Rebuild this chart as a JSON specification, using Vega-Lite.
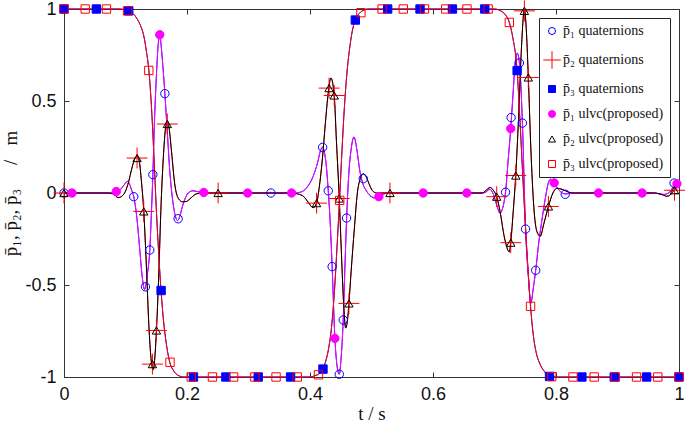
{
"$schema":"https://vega.github.io/schema/vega-lite/v6.json",
"width":615,"height":368,
"autosize":{"type":"none"},
"padding":{"left":64,"top":9,"right":6,"bottom":54},
"background":"white",
"config":{
"view":{"stroke":null},
"axis":{"grid":false,"domainColor":"#333","tickColor":"#333","tickSize":-5,"labelFont":"Liberation Sans","labelFontSize":18,"labelColor":"#111","titleFont":"Liberation Serif","titleFontSize":19,"titleFontWeight":"normal","titleColor":"#111"},
"legend":{"orient":"top-right","offset":9,"strokeColor":"#222","fillColor":"white","padding":6,"labelFont":"Liberation Serif","labelFontSize":14,"labelColor":"#111","symbolSize":49,"symbolStrokeWidth":1,"rowPadding":11,"labelLimit":0,"title":null}
},
"datasets":{
"curves":[
{"c":"p1","t":0,"v":0},{"c":"p1","t":0.07,"v":0},{"c":"p1","t":0.08,"v":0.003},{"c":"p1","t":0.085,"v":0.008},{"c":"p1","t":0.092,"v":0.02},{"c":"p1","t":0.098,"v":0.045},{"c":"p1","t":0.103,"v":0.063},{"c":"p1","t":0.107,"v":0.045},{"c":"p1","t":0.11,"v":0.015},{"c":"p1","t":0.1134,"v":-0.02},{"c":"p1","t":0.118,"v":-0.12},{"c":"p1","t":0.123,"v":-0.3},{"c":"p1","t":0.127,"v":-0.45},{"c":"p1","t":0.131,"v":-0.525},{"c":"p1","t":0.1325,"v":-0.51},{"c":"p1","t":0.136,"v":-0.43},{"c":"p1","t":0.1395,"v":-0.31},{"c":"p1","t":0.142,"v":-0.12},{"c":"p1","t":0.1445,"v":0.1},{"c":"p1","t":0.147,"v":0.38},{"c":"p1","t":0.15,"v":0.62},{"c":"p1","t":0.153,"v":0.8},{"c":"p1","t":0.1557,"v":0.86},{"c":"p1","t":0.158,"v":0.8},{"c":"p1","t":0.161,"v":0.68},{"c":"p1","t":0.164,"v":0.54},{"c":"p1","t":0.168,"v":0.33},{"c":"p1","t":0.172,"v":0.12},{"c":"p1","t":0.176,"v":-0.02},{"c":"p1","t":0.18,"v":-0.11},{"c":"p1","t":0.1845,"v":-0.15},{"c":"p1","t":0.188,"v":-0.13},{"c":"p1","t":0.192,"v":-0.08},{"c":"p1","t":0.197,"v":-0.03},{"c":"p1","t":0.202,"v":0},{"c":"p1","t":0.21,"v":0.012},{"c":"p1","t":0.22,"v":0.005},{"c":"p1","t":0.23,"v":0},{"c":"p1","t":0.375,"v":0},{"c":"p1","t":0.385,"v":0.005},{"c":"p1","t":0.395,"v":0.03},{"c":"p1","t":0.405,"v":0.09},{"c":"p1","t":0.412,"v":0.16},{"c":"p1","t":0.4175,"v":0.235},{"c":"p1","t":0.4205,"v":0.25},{"c":"p1","t":0.4235,"v":0.22},{"c":"p1","t":0.427,"v":0.13},{"c":"p1","t":0.4297,"v":0.012},{"c":"p1","t":0.433,"v":-0.17},{"c":"p1","t":0.436,"v":-0.4},{"c":"p1","t":0.4405,"v":-0.79},{"c":"p1","t":0.444,"v":-0.94},{"c":"p1","t":0.4476,"v":-0.985},{"c":"p1","t":0.4505,"v":-0.9},{"c":"p1","t":0.454,"v":-0.69},{"c":"p1","t":0.457,"v":-0.38},{"c":"p1","t":0.4595,"v":-0.14},{"c":"p1","t":0.463,"v":0.1},{"c":"p1","t":0.467,"v":0.24},{"c":"p1","t":0.4715,"v":0.305},{"c":"p1","t":0.476,"v":0.24},{"c":"p1","t":0.481,"v":0.12},{"c":"p1","t":0.486,"v":0.05},{"c":"p1","t":0.492,"v":0.01},{"c":"p1","t":0.5,"v":-0.02},{"c":"p1","t":0.507,"v":-0.028},{"c":"p1","t":0.512,"v":-0.02},{"c":"p1","t":0.52,"v":-0.005},{"c":"p1","t":0.53,"v":0},{"c":"p1","t":0.68,"v":0},{"c":"p1","t":0.686,"v":0.005},{"c":"p1","t":0.692,"v":0.02},{"c":"p1","t":0.698,"v":-0.005},{"c":"p1","t":0.704,"v":-0.07},{"c":"p1","t":0.709,"v":-0.11},{"c":"p1","t":0.7125,"v":-0.09},{"c":"p1","t":0.716,"v":-0.04},{"c":"p1","t":0.718,"v":0.005},{"c":"p1","t":0.722,"v":0.17},{"c":"p1","t":0.7264,"v":0.35},{"c":"p1","t":0.73,"v":0.53},{"c":"p1","t":0.734,"v":0.72},{"c":"p1","t":0.737,"v":0.76},{"c":"p1","t":0.7405,"v":0.707},{"c":"p1","t":0.7454,"v":0.38},{"c":"p1","t":0.7505,"v":-0.196},{"c":"p1","t":0.755,"v":-0.45},{"c":"p1","t":0.759,"v":-0.6},{"c":"p1","t":0.763,"v":-0.52},{"c":"p1","t":0.767,"v":-0.42},{"c":"p1","t":0.772,"v":-0.27},{"c":"p1","t":0.777,"v":-0.15},{"c":"p1","t":0.7826,"v":-0.03},{"c":"p1","t":0.788,"v":0.06},{"c":"p1","t":0.791,"v":0.075},{"c":"p1","t":0.797,"v":0.055},{"c":"p1","t":0.805,"v":0.015},{"c":"p1","t":0.815,"v":-0.005},{"c":"p1","t":0.83,"v":0},{"c":"p1","t":0.96,"v":0},{"c":"p1","t":0.975,"v":-0.008},{"c":"p1","t":0.985,"v":0.005},{"c":"p1","t":0.992,"v":0.04},{"c":"p1","t":0.9966,"v":0.05},{"c":"p1","t":1,"v":0.055},
{"c":"p2","t":0,"v":0},{"c":"p2","t":0.07,"v":0},{"c":"p2","t":0.08,"v":-0.005},{"c":"p2","t":0.088,"v":-0.025},{"c":"p2","t":0.095,"v":-0.015},{"c":"p2","t":0.1,"v":0.01},{"c":"p2","t":0.105,"v":0.06},{"c":"p2","t":0.11,"v":0.13},{"c":"p2","t":0.115,"v":0.185},{"c":"p2","t":0.119,"v":0.2},{"c":"p2","t":0.122,"v":0.18},{"c":"p2","t":0.126,"v":0.06},{"c":"p2","t":0.1297,"v":-0.1},{"c":"p2","t":0.134,"v":-0.4},{"c":"p2","t":0.138,"v":-0.72},{"c":"p2","t":0.1415,"v":-0.9},{"c":"p2","t":0.145,"v":-0.96},{"c":"p2","t":0.148,"v":-0.88},{"c":"p2","t":0.1503,"v":-0.747},{"c":"p2","t":0.154,"v":-0.45},{"c":"p2","t":0.158,"v":-0.05},{"c":"p2","t":0.162,"v":0.22},{"c":"p2","t":0.165,"v":0.35},{"c":"p2","t":0.168,"v":0.39},{"c":"p2","t":0.171,"v":0.35},{"c":"p2","t":0.175,"v":0.22},{"c":"p2","t":0.18,"v":0.05},{"c":"p2","t":0.186,"v":-0.03},{"c":"p2","t":0.193,"v":-0.048},{"c":"p2","t":0.199,"v":-0.046},{"c":"p2","t":0.207,"v":-0.025},{"c":"p2","t":0.215,"v":-0.005},{"c":"p2","t":0.225,"v":0},{"c":"p2","t":0.37,"v":0},{"c":"p2","t":0.38,"v":-0.005},{"c":"p2","t":0.39,"v":-0.02},{"c":"p2","t":0.397,"v":-0.05},{"c":"p2","t":0.405,"v":-0.08},{"c":"p2","t":0.4107,"v":-0.055},{"c":"p2","t":0.415,"v":0.03},{"c":"p2","t":0.42,"v":0.18},{"c":"p2","t":0.425,"v":0.38},{"c":"p2","t":0.4295,"v":0.54},{"c":"p2","t":0.434,"v":0.625},{"c":"p2","t":0.4394,"v":0.53},{"c":"p2","t":0.443,"v":0.28},{"c":"p2","t":0.4476,"v":-0.03},{"c":"p2","t":0.451,"v":-0.32},{"c":"p2","t":0.455,"v":-0.62},{"c":"p2","t":0.458,"v":-0.734},{"c":"p2","t":0.461,"v":-0.69},{"c":"p2","t":0.4633,"v":-0.6},{"c":"p2","t":0.467,"v":-0.42},{"c":"p2","t":0.472,"v":-0.2},{"c":"p2","t":0.477,"v":0},{"c":"p2","t":0.482,"v":0.08},{"c":"p2","t":0.4866,"v":0.105},{"c":"p2","t":0.491,"v":0.09},{"c":"p2","t":0.496,"v":0.05},{"c":"p2","t":0.501,"v":0.015},{"c":"p2","t":0.508,"v":0},{"c":"p2","t":0.68,"v":0},{"c":"p2","t":0.6865,"v":0.015},{"c":"p2","t":0.6928,"v":0.03},{"c":"p2","t":0.698,"v":0.015},{"c":"p2","t":0.7036,"v":-0.02},{"c":"p2","t":0.709,"v":-0.1},{"c":"p2","t":0.716,"v":-0.24},{"c":"p2","t":0.7242,"v":-0.32},{"c":"p2","t":0.7264,"v":-0.27},{"c":"p2","t":0.73,"v":-0.12},{"c":"p2","t":0.7346,"v":0.1},{"c":"p2","t":0.739,"v":0.4},{"c":"p2","t":0.744,"v":0.8},{"c":"p2","t":0.7486,"v":1},{"c":"p2","t":0.752,"v":0.87},{"c":"p2","t":0.755,"v":0.628},{"c":"p2","t":0.759,"v":0.25},{"c":"p2","t":0.764,"v":-0.08},{"c":"p2","t":0.769,"v":-0.21},{"c":"p2","t":0.7745,"v":-0.235},{"c":"p2","t":0.78,"v":-0.17},{"c":"p2","t":0.7877,"v":-0.073},{"c":"p2","t":0.795,"v":0},{"c":"p2","t":0.801,"v":0.025},{"c":"p2","t":0.81,"v":0.02},{"c":"p2","t":0.82,"v":0.005},{"c":"p2","t":0.83,"v":0},{"c":"p2","t":0.96,"v":0},{"c":"p2","t":0.975,"v":-0.012},{"c":"p2","t":0.98,"v":-0.018},{"c":"p2","t":0.986,"v":-0.01},{"c":"p2","t":0.992,"v":0.015},{"c":"p2","t":1,"v":0.04},
{"c":"p3","t":0,"v":1},{"c":"p3","t":0.09,"v":1},{"c":"p3","t":0.1,"v":0.995},{"c":"p3","t":0.105,"v":0.99},{"c":"p3","t":0.11,"v":0.98},{"c":"p3","t":0.115,"v":0.965},{"c":"p3","t":0.12,"v":0.94},{"c":"p3","t":0.125,"v":0.905},{"c":"p3","t":0.13,"v":0.85},{"c":"p3","t":0.134,"v":0.77},{"c":"p3","t":0.138,"v":0.666},{"c":"p3","t":0.142,"v":0.48},{"c":"p3","t":0.146,"v":0.22},{"c":"p3","t":0.15,"v":-0.08},{"c":"p3","t":0.154,"v":-0.33},{"c":"p3","t":0.158,"v":-0.54},{"c":"p3","t":0.162,"v":-0.7},{"c":"p3","t":0.166,"v":-0.81},{"c":"p3","t":0.172,"v":-0.92},{"c":"p3","t":0.178,"v":-0.965},{"c":"p3","t":0.185,"v":-0.99},{"c":"p3","t":0.195,"v":-1},{"c":"p3","t":0.4,"v":-1},{"c":"p3","t":0.41,"v":-0.99},{"c":"p3","t":0.414,"v":-0.985},{"c":"p3","t":0.42,"v":-0.96},{"c":"p3","t":0.425,"v":-0.92},{"c":"p3","t":0.43,"v":-0.85},{"c":"p3","t":0.435,"v":-0.73},{"c":"p3","t":0.44,"v":-0.52},{"c":"p3","t":0.444,"v":-0.29},{"c":"p3","t":0.448,"v":-0.04},{"c":"p3","t":0.452,"v":0.23},{"c":"p3","t":0.456,"v":0.47},{"c":"p3","t":0.46,"v":0.65},{"c":"p3","t":0.465,"v":0.8},{"c":"p3","t":0.47,"v":0.9},{"c":"p3","t":0.474,"v":0.945},{"c":"p3","t":0.48,"v":0.975},{"c":"p3","t":0.485,"v":0.99},{"c":"p3","t":0.495,"v":1},{"c":"p3","t":0.7,"v":1},{"c":"p3","t":0.71,"v":0.99},{"c":"p3","t":0.716,"v":0.975},{"c":"p3","t":0.7241,"v":0.927},{"c":"p3","t":0.73,"v":0.84},{"c":"p3","t":0.7368,"v":0.665},{"c":"p3","t":0.741,"v":0.42},{"c":"p3","t":0.745,"v":0.16},{"c":"p3","t":0.749,"v":-0.1},{"c":"p3","t":0.7535,"v":-0.36},{"c":"p3","t":0.7586,"v":-0.616},{"c":"p3","t":0.763,"v":-0.77},{"c":"p3","t":0.768,"v":-0.87},{"c":"p3","t":0.774,"v":-0.93},{"c":"p3","t":0.78,"v":-0.965},{"c":"p3","t":0.79,"v":-0.995},{"c":"p3","t":0.8,"v":-1},{"c":"p3","t":1,"v":-1}
],
"markers":[
{"s":"q1","t":0,"v":0},{"s":"q1","t":0.1134,"v":-0.02},{"s":"q1","t":0.1325,"v":-0.51},{"s":"q1","t":0.1395,"v":-0.31},{"s":"q1","t":0.1445,"v":0.1},{"s":"q1","t":0.164,"v":0.54},{"s":"q1","t":0.1856,"v":-0.14},{"s":"q1","t":0.3364,"v":0},{"s":"q1","t":0.4205,"v":0.248},{"s":"q1","t":0.4297,"v":0.012},{"s":"q1","t":0.436,"v":-0.4},{"s":"q1","t":0.4476,"v":-0.985},{"s":"q1","t":0.454,"v":-0.69},{"s":"q1","t":0.4595,"v":-0.136},{"s":"q1","t":0.4866,"v":0.078},{"s":"q1","t":0.718,"v":0.004},{"s":"q1","t":0.727,"v":0.41},{"s":"q1","t":0.7405,"v":0.707},{"s":"q1","t":0.7454,"v":0.38},{"s":"q1","t":0.7505,"v":-0.196},{"s":"q1","t":0.767,"v":-0.42},{"s":"q1","t":0.815,"v":-0.007},{"s":"q1","t":0.992,"v":0.054},
{"s":"q2","t":0,"v":0},{"s":"q2","t":0.1188,"v":0.19},{"s":"q2","t":0.1297,"v":-0.1},{"s":"q2","t":0.1438,"v":-0.93},{"s":"q2","t":0.1503,"v":-0.747},{"s":"q2","t":0.168,"v":0.375},{"s":"q2","t":0.2506,"v":0},{"s":"q2","t":0.4107,"v":-0.055},{"s":"q2","t":0.431,"v":0.57},{"s":"q2","t":0.4394,"v":0.53},{"s":"q2","t":0.4476,"v":-0.03},{"s":"q2","t":0.4633,"v":-0.6},{"s":"q2","t":0.53,"v":0},{"s":"q2","t":0.7036,"v":-0.02},{"s":"q2","t":0.7264,"v":-0.27},{"s":"q2","t":0.7346,"v":0.095},{"s":"q2","t":0.7486,"v":0.99},{"s":"q2","t":0.755,"v":0.628},{"s":"q2","t":0.7877,"v":-0.073},{"s":"q2","t":0.9927,"v":0.015},
{"s":"q3","t":0,"v":1},{"s":"q3","t":0.0526,"v":1},{"s":"q3","t":0.1053,"v":0.99},{"s":"q3","t":0.1579,"v":-0.53},{"s":"q3","t":0.2105,"v":-1},{"s":"q3","t":0.2632,"v":-1},{"s":"q3","t":0.3158,"v":-1},{"s":"q3","t":0.3684,"v":-1},{"s":"q3","t":0.4211,"v":-0.957},{"s":"q3","t":0.4737,"v":0.94},{"s":"q3","t":0.5263,"v":1},{"s":"q3","t":0.5789,"v":1},{"s":"q3","t":0.6316,"v":1},{"s":"q3","t":0.6842,"v":1},{"s":"q3","t":0.7368,"v":0.665},{"s":"q3","t":0.7895,"v":-0.997},{"s":"q3","t":0.8421,"v":-1},{"s":"q3","t":0.8947,"v":-1},{"s":"q3","t":0.9474,"v":-1},{"s":"q3","t":1,"v":-1},
{"s":"u1","t":0.013,"v":0},{"s":"u1","t":0.085,"v":0.008},{"s":"u1","t":0.1557,"v":0.86},{"s":"u1","t":0.2273,"v":0.003},{"s":"u1","t":0.2986,"v":0},{"s":"u1","t":0.37,"v":0},{"s":"u1","t":0.4405,"v":-0.79},{"s":"u1","t":0.512,"v":-0.02},{"s":"u1","t":0.584,"v":0},{"s":"u1","t":0.655,"v":0},{"s":"u1","t":0.7264,"v":0.35},{"s":"u1","t":0.797,"v":0.055},{"s":"u1","t":0.869,"v":0},{"s":"u1","t":0.94,"v":0},{"s":"u1","t":0.9966,"v":0.05},
{"s":"u2","t":0,"v":0},{"s":"u2","t":0.1188,"v":0.19},{"s":"u2","t":0.1297,"v":-0.1},{"s":"u2","t":0.1438,"v":-0.93},{"s":"u2","t":0.1503,"v":-0.747},{"s":"u2","t":0.168,"v":0.375},{"s":"u2","t":0.2506,"v":0},{"s":"u2","t":0.4107,"v":-0.055},{"s":"u2","t":0.431,"v":0.57},{"s":"u2","t":0.4394,"v":0.53},{"s":"u2","t":0.4476,"v":-0.03},{"s":"u2","t":0.4633,"v":-0.6},{"s":"u2","t":0.53,"v":0},{"s":"u2","t":0.7036,"v":-0.02},{"s":"u2","t":0.7264,"v":-0.27},{"s":"u2","t":0.7346,"v":0.095},{"s":"u2","t":0.7486,"v":0.99},{"s":"u2","t":0.755,"v":0.628},{"s":"u2","t":0.7877,"v":-0.073},{"s":"u2","t":0.9927,"v":0.015},
{"s":"u3","t":0,"v":1},{"s":"u3","t":0.0345,"v":1},{"s":"u3","t":0.069,"v":1},{"s":"u3","t":0.1034,"v":0.99},{"s":"u3","t":0.1379,"v":0.666},{"s":"u3","t":0.1724,"v":-0.92},{"s":"u3","t":0.2069,"v":-1},{"s":"u3","t":0.2414,"v":-1},{"s":"u3","t":0.2759,"v":-1},{"s":"u3","t":0.3103,"v":-1},{"s":"u3","t":0.3448,"v":-1},{"s":"u3","t":0.3793,"v":-1},{"s":"u3","t":0.4138,"v":-0.988},{"s":"u3","t":0.4483,"v":-0.04},{"s":"u3","t":0.4828,"v":0.98},{"s":"u3","t":0.5172,"v":1},{"s":"u3","t":0.5517,"v":1},{"s":"u3","t":0.5862,"v":1},{"s":"u3","t":0.6207,"v":1},{"s":"u3","t":0.6552,"v":1},{"s":"u3","t":0.6897,"v":1},{"s":"u3","t":0.7241,"v":0.927},{"s":"u3","t":0.7586,"v":-0.616},{"s":"u3","t":0.7931,"v":-0.998},{"s":"u3","t":0.8276,"v":-1},{"s":"u3","t":0.8621,"v":-1},{"s":"u3","t":0.8966,"v":-1},{"s":"u3","t":0.931,"v":-1},{"s":"u3","t":0.9655,"v":-1},{"s":"u3","t":1,"v":-1}
]
},
"encoding":{
"x":{"field":"t","type":"quantitative","scale":{"domain":[0,1],"nice":false,"zero":false},"axis":null},
"y":{"field":"v","type":"quantitative","scale":{"domain":[-1,1],"nice":false,"zero":false},"axis":null}
},
"layer":[
{"data":{"name":"curves"},"transform":[{"filter":"datum.c==='p1'"}],"mark":{"type":"line","interpolate":"monotone","stroke":"#0000ff","strokeWidth":1},
"encoding":{
"x":{"field":"t","type":"quantitative","scale":{"domain":[0,1],"nice":false,"zero":false},"axis":{"orient":"bottom","values":[0,0.2,0.4,0.6,0.8,1],"format":"~g","title":"t / s","labelFlush":false,"labelOverlap":false,"labelPadding":13,"titlePadding":1,"labelExpr":"replace(datum.label, '\u2212', '-')"}},
"y":{"field":"v","type":"quantitative","scale":{"domain":[-1,1],"nice":false,"zero":false},"axis":{"orient":"left","values":[-1,-0.5,0,0.5,1],"format":"~g","title":"p\u0304\u2081, p\u0304\u2082, p\u0304\u2083 \u2003/ \u2002m","labelFlush":false,"labelOverlap":false,"labelPadding":13,"titlePadding":4,"labelExpr":"replace(datum.label, '\u2212', '-')"}}
}},
{"data":{"name":"curves"},"transform":[{"filter":"datum.c==='p2'"}],"mark":{"type":"line","interpolate":"monotone","stroke":"#ff0000","strokeWidth":1},
"encoding":{
"x":{"field":"t","type":"quantitative","scale":{"domain":[0,1],"nice":false,"zero":false},"axis":{"orient":"top","values":[0,0.2,0.4,0.6,0.8,1],"labels":false,"title":null}},
"y":{"field":"v","type":"quantitative","scale":{"domain":[-1,1],"nice":false,"zero":false},"axis":{"orient":"right","values":[-1,-0.5,0,0.5,1],"labels":false,"title":null}}
}},
{"data":{"name":"curves"},"transform":[{"filter":"datum.c==='p3'"}],"mark":{"type":"line","interpolate":"monotone","stroke":"#0000ff","strokeWidth":1},"encoding":{}},
{"data":{"name":"curves"},"transform":[{"filter":"datum.c==='p1'"}],"mark":{"type":"line","interpolate":"monotone","stroke":"#ff00ff","strokeWidth":1},"encoding":{}},
{"data":{"name":"curves"},"transform":[{"filter":"datum.c==='p2'"}],"mark":{"type":"line","interpolate":"monotone","stroke":"#000000","strokeWidth":1},"encoding":{}},
{"data":{"name":"curves"},"transform":[{"filter":"datum.c==='p3'"}],"mark":{"type":"line","interpolate":"monotone","stroke":"#ff0000","strokeWidth":1},"encoding":{}},
{"data":{"name":"markers"},"mark":{"type":"point","filled":true,"opacity":1,"strokeWidth":1,"size":70},
"encoding":{
"stroke":{"field":"s","type":"nominal","scale":{"domain":["q1","q2","q3","u1","u2","u3"],"range":["#0000ff","#ff0000","#0000ff","#ff00ff","#000000","#ff0000"]},
"legend":{"title":null,"labelExpr":"datum.label==='q1' ? 'p\u0304\u2081 quaternions' : datum.label==='q2' ? 'p\u0304\u2082 quaternions' : datum.label==='q3' ? 'p\u0304\u2083 quaternions' : datum.label==='u1' ? 'p\u0304\u2081 ulvc(proposed)' : datum.label==='u2' ? 'p\u0304\u2082 ulvc(proposed)' : 'p\u0304\u2083 ulvc(proposed)'"}},
"fill":{"field":"s","type":"nominal","scale":{"domain":["q1","q2","q3","u1","u2","u3"],"range":["transparent","transparent","#0000ff","#ff00ff","transparent","transparent"]}},
"shape":{"field":"s","type":"nominal","scale":{"domain":["q1","q2","q3","u1","u2","u3"],"range":["circle","M-2.5,0H2.5M0,-2.5V2.5","square","circle","triangle-up","square"]}}
}}
],
"resolve":{"axis":{"x":"independent","y":"independent"}}
}
